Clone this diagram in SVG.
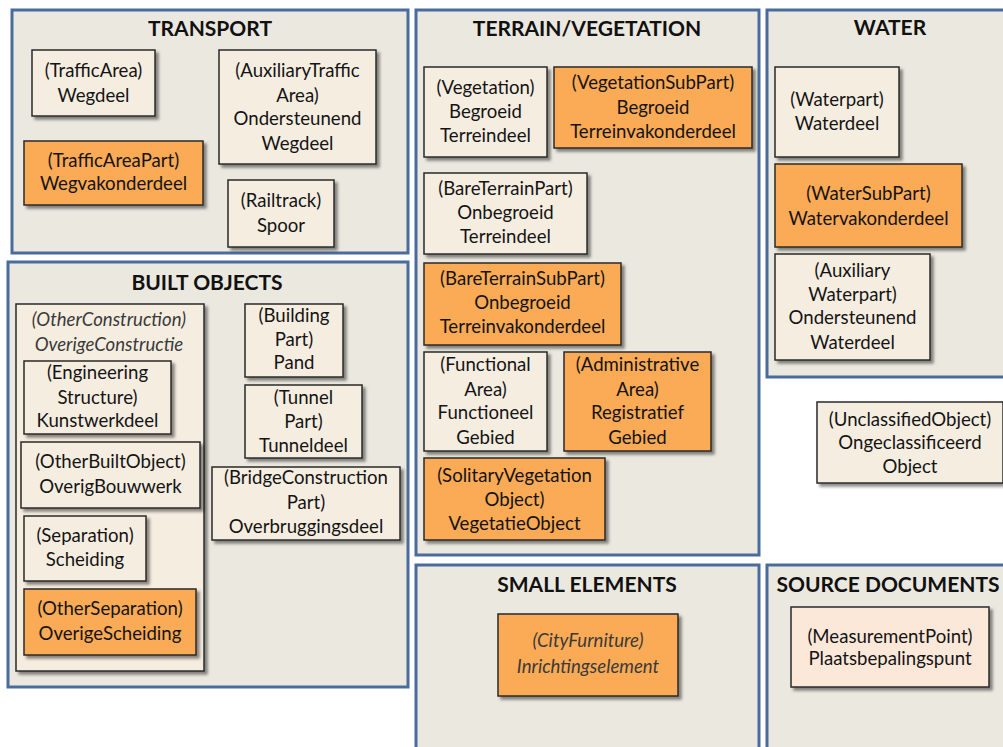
<svg xmlns="http://www.w3.org/2000/svg" width="1003" height="747" viewBox="0 0 1003 747">
  <defs>
    <filter id="shadow" x="-10%" y="-10%" width="130%" height="130%">
      <feDropShadow dx="3" dy="3" stdDeviation="1.8" flood-color="#000" flood-opacity="0.45"/>
    </filter>
    <style>
      .panel { fill: #ebe9df; stroke: #4a6c9c; stroke-width: 3; }
      .title { font-family: Lato, "Liberation Sans", sans-serif; font-weight: bold; font-size: 21px; text-anchor: middle; fill: #111; }
      .box { fill: #f6ede1; stroke: #2a2a2a; stroke-width: 1.5; filter: url(#shadow); }
      .box.sub { fill: #fbaa57; }
      .box.doc { fill: #fce8d9; }
      .t { font-family: Lato, "Liberation Sans", sans-serif; font-size: 18.6px; text-anchor: middle; fill: #141414; }
      .t.it { font-style: italic; fill: #3a3a3a; }
    </style>
  </defs>

  <rect width="1003" height="747" fill="#ffffff"/>

  <!-- category panels -->
  <g id="panel-transport">
    <rect class="panel" x="12" y="10" width="396" height="243"/>
    <text class="title" x="210" y="36">TRANSPORT</text>
  </g>
  <g id="panel-terrain">
    <rect class="panel" x="416" y="10" width="343" height="545"/>
    <text class="title" x="587" y="36">TERRAIN/VEGETATION</text>
  </g>
  <g id="panel-water">
    <rect class="panel" x="767" y="10" width="240" height="367"/>
    <text class="title" x="890" y="35">WATER</text>
  </g>
  <g id="panel-built">
    <rect class="panel" x="8" y="262" width="400" height="425"/>
    <text class="title" x="207" y="290">BUILT OBJECTS</text>
  </g>
  <g id="panel-small">
    <rect class="panel" x="416" y="565" width="343" height="190"/>
    <text class="title" x="587" y="592">SMALL ELEMENTS</text>
  </g>
  <g id="panel-source">
    <rect class="panel" x="767" y="565" width="240" height="190"/>
    <text class="title" x="888" y="592">SOURCE DOCUMENTS</text>
  </g>

  <!-- transport -->
  <g id="traffic-area">
    <rect class="box" x="32" y="50" width="123" height="66"/>
    <text class="t"><tspan x="93.5" y="77">(TrafficArea)</tspan><tspan x="93.5" y="102">Wegdeel</tspan></text>
  </g>
  <g id="auxiliary-traffic-area">
    <rect class="box" x="219" y="50" width="157" height="114"/>
    <text class="t"><tspan x="297.5" y="77">(AuxiliaryTraffic</tspan><tspan x="297.5" y="102">Area)</tspan><tspan x="297.5" y="125">Ondersteunend</tspan><tspan x="297.5" y="150">Wegdeel</tspan></text>
  </g>
  <g id="traffic-area-part">
    <rect class="box sub" x="24" y="141" width="179" height="64"/>
    <text class="t"><tspan x="113.5" y="167">(TrafficAreaPart)</tspan><tspan x="113.5" y="190">Wegvakonderdeel</tspan></text>
  </g>
  <g id="railtrack">
    <rect class="box" x="228" y="180" width="106" height="67"/>
    <text class="t"><tspan x="281" y="207">(Railtrack)</tspan><tspan x="281" y="232">Spoor</tspan></text>
  </g>

  <!-- terrain / vegetation -->
  <g id="vegetation">
    <rect class="box" x="424" y="67" width="123" height="90"/>
    <text class="t"><tspan x="485.5" y="94">(Vegetation)</tspan><tspan x="485.5" y="118">Begroeid</tspan><tspan x="485.5" y="142">Terreindeel</tspan></text>
  </g>
  <g id="vegetation-sub-part">
    <rect class="box sub" x="554" y="67" width="198" height="81"/>
    <text class="t"><tspan x="653" y="89">(VegetationSubPart)</tspan><tspan x="653" y="114">Begroeid</tspan><tspan x="653" y="138">Terreinvakonderdeel</tspan></text>
  </g>
  <g id="bare-terrain-part">
    <rect class="box" x="424" y="173" width="163" height="81"/>
    <text class="t"><tspan x="505.5" y="195">(BareTerrainPart)</tspan><tspan x="505.5" y="219">Onbegroeid</tspan><tspan x="505.5" y="243">Terreindeel</tspan></text>
  </g>
  <g id="bare-terrain-sub-part">
    <rect class="box sub" x="424" y="263" width="197" height="82"/>
    <text class="t"><tspan x="522.5" y="285">(BareTerrainSubPart)</tspan><tspan x="522.5" y="309">Onbegroeid</tspan><tspan x="522.5" y="333">Terreinvakonderdeel</tspan></text>
  </g>
  <g id="functional-area">
    <rect class="box" x="424" y="352" width="123" height="99"/>
    <text class="t"><tspan x="485.5" y="371">(Functional</tspan><tspan x="485.5" y="396">Area)</tspan><tspan x="485.5" y="419">Functioneel</tspan><tspan x="485.5" y="444">Gebied</tspan></text>
  </g>
  <g id="administrative-area">
    <rect class="box sub" x="564" y="352" width="147" height="99"/>
    <text class="t"><tspan x="637.5" y="371">(Administrative</tspan><tspan x="637.5" y="396">Area)</tspan><tspan x="637.5" y="419">Registratief</tspan><tspan x="637.5" y="444">Gebied</tspan></text>
  </g>
  <g id="solitary-vegetation-object">
    <rect class="box sub" x="424" y="458" width="181" height="82"/>
    <text class="t"><tspan x="514.5" y="482">(SolitaryVegetation</tspan><tspan x="514.5" y="506">Object)</tspan><tspan x="514.5" y="530">VegetatieObject</tspan></text>
  </g>

  <!-- water -->
  <g id="waterpart">
    <rect class="box" x="775" y="67" width="124" height="90"/>
    <text class="t"><tspan x="837" y="106">(Waterpart)</tspan><tspan x="837" y="130">Waterdeel</tspan></text>
  </g>
  <g id="water-sub-part">
    <rect class="box sub" x="775" y="164" width="187" height="83"/>
    <text class="t"><tspan x="868.5" y="200">(WaterSubPart)</tspan><tspan x="868.5" y="225">Watervakonderdeel</tspan></text>
  </g>
  <g id="auxiliary-waterpart">
    <rect class="box" x="775" y="254" width="155" height="106"/>
    <text class="t"><tspan x="852.5" y="277">(Auxiliary</tspan><tspan x="852.5" y="301">Waterpart)</tspan><tspan x="852.5" y="324">Ondersteunend</tspan><tspan x="852.5" y="349">Waterdeel</tspan></text>
  </g>
  <g id="unclassified-object">
    <rect class="box" x="817" y="402" width="186" height="81"/>
    <text class="t"><tspan x="910" y="426">(UnclassifiedObject)</tspan><tspan x="910" y="449">Ongeclassificeerd</tspan><tspan x="910" y="473">Object</tspan></text>
  </g>

  <!-- built objects -->
  <g id="other-construction">
    <rect class="box" x="16" y="304" width="188" height="367"/>
    <text class="t it"><tspan x="109" y="326">(OtherConstruction)</tspan><tspan x="109" y="351">OverigeConstructie</tspan></text>
  </g>
  <g id="engineering-structure">
    <rect class="box" x="24" y="361" width="147" height="73"/>
    <text class="t"><tspan x="97.5" y="379">(Engineering</tspan><tspan x="97.5" y="404">Structure)</tspan><tspan x="97.5" y="427">Kunstwerkdeel</tspan></text>
  </g>
  <g id="other-built-object">
    <rect class="box" x="21" y="442" width="179" height="66"/>
    <text class="t"><tspan x="110.5" y="468">(OtherBuiltObject)</tspan><tspan x="110.5" y="493">OverigBouwwerk</tspan></text>
  </g>
  <g id="separation">
    <rect class="box" x="24" y="516" width="122" height="65"/>
    <text class="t"><tspan x="85" y="542">(Separation)</tspan><tspan x="85" y="566">Scheiding</tspan></text>
  </g>
  <g id="other-separation">
    <rect class="box sub" x="24" y="589" width="172" height="66"/>
    <text class="t"><tspan x="110" y="615">(OtherSeparation)</tspan><tspan x="110" y="640">OverigeScheiding</tspan></text>
  </g>
  <g id="building-part">
    <rect class="box" x="245" y="304" width="98" height="73"/>
    <text class="t"><tspan x="294" y="322">(Building</tspan><tspan x="294" y="346">Part)</tspan><tspan x="294" y="369">Pand</tspan></text>
  </g>
  <g id="tunnel-part">
    <rect class="box" x="245" y="385" width="117" height="73"/>
    <text class="t"><tspan x="303.5" y="404">(Tunnel</tspan><tspan x="303.5" y="428">Part)</tspan><tspan x="303.5" y="452">Tunneldeel</tspan></text>
  </g>
  <g id="bridge-construction-part">
    <rect class="box" x="212" y="467" width="188" height="73"/>
    <text class="t"><tspan x="306" y="484">(BridgeConstruction</tspan><tspan x="306" y="509">Part)</tspan><tspan x="306" y="533">Overbruggingsdeel</tspan></text>
  </g>

  <!-- small elements -->
  <g id="city-furniture">
    <rect class="box sub" x="498" y="614" width="180" height="82"/>
    <text class="t it"><tspan x="588" y="647">(CityFurniture)</tspan><tspan x="588" y="673">Inrichtingselement</tspan></text>
  </g>

  <!-- source documents -->
  <g id="measurement-point">
    <rect class="box doc" x="791" y="607" width="198" height="80"/>
    <text class="t"><tspan x="890" y="643">(MeasurementPoint)</tspan><tspan x="890" y="665">Plaatsbepalingspunt</tspan></text>
  </g>
</svg>
